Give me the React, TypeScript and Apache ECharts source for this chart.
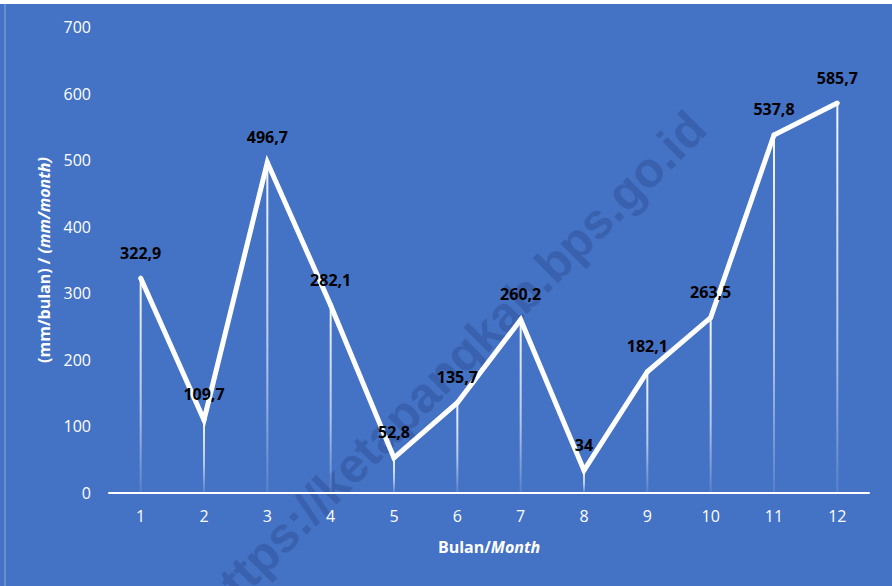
import React, { useEffect, useRef } from "react";
import * as echarts from "echarts";

const months = ["1", "2", "3", "4", "5", "6", "7", "8", "9", "10", "11", "12"];
const rainfall = [322.9, 109.7, 496.7, 282.1, 52.8, 135.7, 260.2, 34, 182.1, 263.5, 537.8, 585.7];
const yTitleBulan = "(mm/bulan) / ";
const yTitleMonth = "(mm/month)";
const xTitleBulan = "Bulan/";
const xTitleMonth = "Month";
const watermark = "https://ketapangkab.bps.go.id";

const FONT = "'Open Sans', sans-serif";

export default function App() {
  const ref = useRef<HTMLDivElement>(null);
  useEffect(() => {
    if (!ref.current) return;
    const chart = echarts.init(ref.current, undefined, { renderer: "svg" });
    chart.setOption({
      animation: false,
      backgroundColor: "#4472C4",
      textStyle: { fontFamily: FONT },
      grid: { left: 109, right: 23, top: 27, bottom: 93 },
      graphic: [
        { type: "rect", shape: { x: 0, y: 0, width: 892, height: 4 }, style: { fill: "#ffffff" }, z: -10 },
        { type: "line", shape: { x1: 5, y1: 4, x2: 5, y2: 586 }, style: { stroke: "#8EA9DB", lineWidth: 1 }, z: -10 },
        {
          type: "text",
          x: 452,
          y: 365,
          rotation: Math.PI / 4,
          z: -5,
          style: {
            text: watermark,
            fill: "rgba(40,70,140,0.38)",
            font: "bold 49px 'Liberation Sans', Arial, sans-serif",
            align: "center",
            verticalAlign: "middle",
          },
        },
      ],
      xAxis: {
        type: "category",
        data: months,
        boundaryGap: true,
        axisLine: { lineStyle: { color: "#ffffff", width: 2 } },
        axisTick: { show: false },
        axisLabel: { color: "#ffffff", fontSize: 16, margin: 15, fontFamily: FONT },
        name: `{b|${xTitleBulan}}{i|${xTitleMonth}}`,
        nameLocation: "middle",
        nameGap: 46,
        nameTextStyle: {
          rich: {
            b: { color: "#ffffff", fontWeight: "bold", fontSize: 16, fontFamily: FONT },
            i: { color: "#ffffff", fontWeight: "bold", fontStyle: "italic", fontSize: 16, fontFamily: FONT },
          },
        },
      },
      yAxis: {
        type: "value",
        min: 0,
        max: 700,
        interval: 100,
        axisLine: { show: false },
        axisTick: { show: false },
        splitLine: { show: false },
        axisLabel: { color: "#ffffff", fontSize: 16, margin: 18, fontFamily: FONT },
        name: `{b|${yTitleBulan}}{i|${yTitleMonth}}`,
        nameLocation: "middle",
        nameRotate: 90,
        nameGap: 57,
        nameTextStyle: {
          rich: {
            b: { color: "#ffffff", fontWeight: "bold", fontSize: 16, fontFamily: FONT },
            i: { color: "#ffffff", fontWeight: "bold", fontStyle: "italic", fontSize: 16, fontFamily: FONT },
          },
        },
      },
      series: [
        {
          type: "bar",
          data: rainfall,
          barWidth: 2,
          z: 1,
          silent: true,
          itemStyle: {
            color: new echarts.graphic.LinearGradient(0, 0, 0, 1, [
              { offset: 0, color: "rgba(255,255,255,0.95)" },
              { offset: 0.6, color: "rgba(255,255,255,0.6)" },
              { offset: 1, color: "rgba(255,255,255,0.1)" },
            ]),
          },
        },
        {
          type: "line",
          data: rainfall,
          z: 3,
          symbol: "circle",
          symbolSize: 5,
          itemStyle: { color: "#ffffff" },
          lineStyle: { color: "#ffffff", width: 5, join: "miter", miterLimit: 4 },
          label: {
            show: true,
            position: "top",
            distance: 15,
            color: "#000000",
            fontWeight: "bold",
            fontSize: 16,
            fontFamily: FONT,
            formatter: (p: any) => String(p.value).replace(".", ","),
          },
        },
      ],
    });
    return () => chart.dispose();
  }, []);
  return (
    <div
      ref={ref}
      style={{ position: "absolute", left: 0, top: 0, width: 892, height: 586 }}
    />
  );
}
